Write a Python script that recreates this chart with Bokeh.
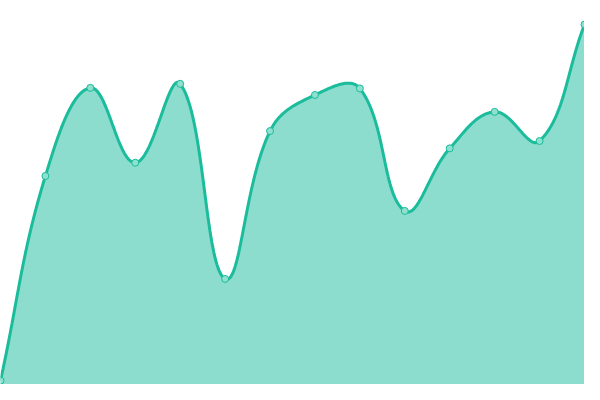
import numpy as np
from bokeh.plotting import figure
from bokeh.models import Range1d
from bokeh.embed import file_html
from bokeh.resources import INLINE

# data
x_idx = list(range(14))
values = [1.0, 54.3, 77.25, 57.75, 78.3, 27.5, 66.0, 75.4, 77.1, 45.2, 61.5, 71.0, 63.4, 93.75]

W, H = 584, 384
XMAX, YMAX = 13.0, 100.0
TENSION = 0.4

p = figure(width=W, height=H, output_backend="svg", toolbar_location=None,
           x_range=Range1d(0, XMAX), y_range=Range1d(0, YMAX),
           min_border=0, min_border_left=0, min_border_right=0,
           min_border_top=0, min_border_bottom=0)
p.axis.visible = False
p.grid.visible = False
p.outline_line_color = None
p.background_fill_color = "white"
p.border_fill_color = "white"

# Chart.js-like cardinal spline computed in pixel space
px = np.array(x_idx, dtype=float) * W / XMAX
py = np.array(values, dtype=float) * H / YMAX
n = len(px)
cp_prev = np.zeros((n, 2))
cp_next = np.zeros((n, 2))
for i in range(n):
    cur = np.array([px[i], py[i]])
    prv = np.array([px[i - 1], py[i - 1]]) if i > 0 else cur
    nxt = np.array([px[i + 1], py[i + 1]]) if i < n - 1 else cur
    d01 = np.hypot(*(cur - prv))
    d12 = np.hypot(*(nxt - cur))
    tot = d01 + d12
    s01 = d01 / tot if tot else 0
    s12 = d12 / tot if tot else 0
    fa = TENSION * s01
    fb = TENSION * s12
    cp_prev[i] = cur - fa * (nxt - prv)
    cp_next[i] = cur + fb * (nxt - prv)

t = np.linspace(0, 1, 40)
cx, cy = [], []
for i in range(n - 1):
    p0 = np.array([px[i], py[i]])
    p1 = cp_next[i]
    p2 = cp_prev[i + 1]
    p3 = np.array([px[i + 1], py[i + 1]])
    b = ((1 - t) ** 3)[:, None] * p0 + (3 * (1 - t) ** 2 * t)[:, None] * p1 \
        + (3 * (1 - t) * t ** 2)[:, None] * p2 + (t ** 3)[:, None] * p3
    if i > 0:
        b = b[1:]
    cx.extend(b[:, 0])
    cy.extend(b[:, 1])
cx = np.array(cx) * XMAX / W
cy = np.array(cy) * YMAX / H

p.varea(x=cx, y1=0, y2=cy, fill_color="#1abc9c", fill_alpha=0.5)
p.line(x=cx, y=cy, line_color="#1abc9c", line_width=3)
p.scatter(x=x_idx, y=values, size=7, fill_color="#8ee0cf",
          line_color="#1abc9c", line_width=1)

open("out.html", "w").write(file_html(p, INLINE))
